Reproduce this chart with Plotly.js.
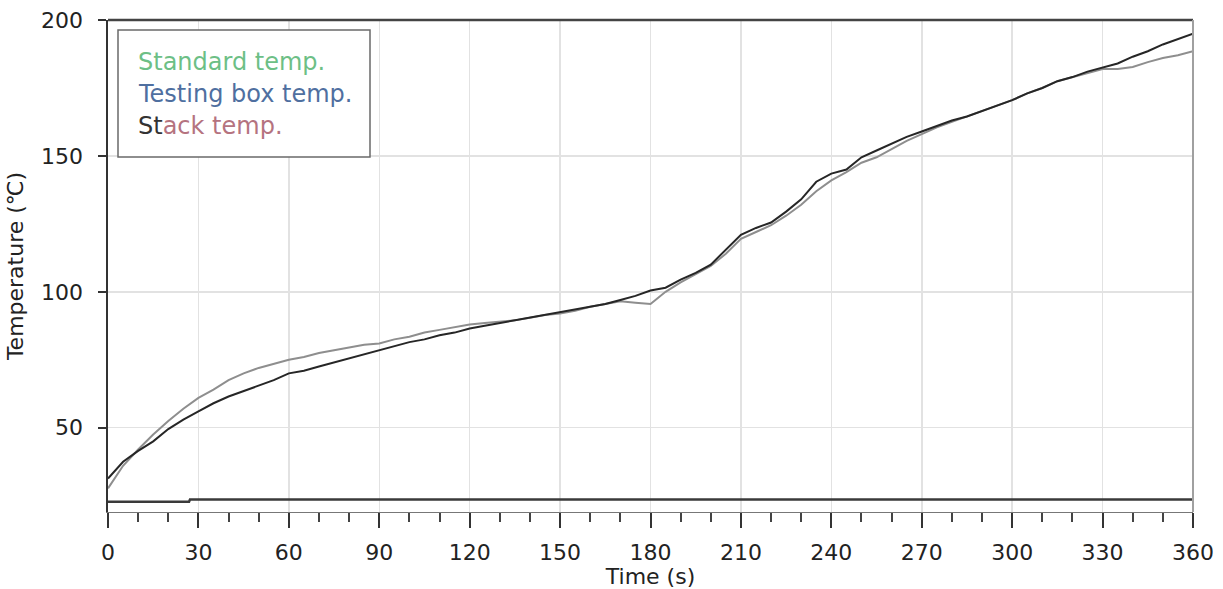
<!DOCTYPE html>
<html>
<head>
<meta charset="utf-8">
<script src="https://cdn.plot.ly/plotly-3.0.1.min.js"></script>
<style>html,body{margin:0;padding:0;background:#fff;}#chart{width:1223px;height:589px;}</style>
</head>
<body>
<div id="chart"></div>
<script>
// Time axis (s)
var timeS = [0,5,10,15,20,25,30,35,40,45,50,55,60,65,70,75,80,85,90,95,100,105,110,115,120,125,130,135,140,145,150,155,160,165,170,175,180,185,190,195,200,205,210,215,220,225,230,235,240,245,250,255,260,265,270,275,280,285,290,295,300,305,310,315,320,325,330,335,340,345,350,355,360];
// Curve rising steeply at start, dips near 180 s (light grey)
var standardTemp = [27.7,36,42,47.5,52.5,57,61,64,67.5,70,72,73.5,75,76,77.5,78.5,79.5,80.5,81,82.5,83.5,85,86,87,88,88.5,89,89.5,90.5,91.5,92,93,94.5,95.5,96.5,96,95.5,100,103.5,106.5,109.5,114,119.5,122,124.5,128,132,137,141,144,147.5,149.5,152.5,155.5,158,160.5,162.5,164.5,166.5,168.5,170.5,173,175,177.5,179,180.5,182,182,182.7,184.5,186,187,188.5];
// Curve ending highest (dark)
var stackTemp = [31.3,37.5,41.5,45,49.5,53,56,59,61.5,63.5,65.5,67.5,70,71,72.5,74,75.5,77,78.5,80,81.5,82.5,84,85,86.5,87.5,88.5,89.5,90.5,91.5,92.5,93.5,94.5,95.5,97,98.5,100.5,101.5,104.5,107,110,115.5,121,123.5,125.5,129.5,134,140.5,143.5,145,149.5,152,154.5,157,159,161,163,164.5,166.5,168.5,170.5,173,175,177.5,179,181,182.5,184,186.5,188.5,191,193,195];
// Testing box temperature (nearly constant)
var boxTime = [0,26.9,27.2,360];
var boxTemp = [22.8,22.8,23.6,23.6];
// Labels
var seriesNames = ["Standard temp.","Testing box temp.","Stack temp."];
var xTicks = [0,30,60,90,120,150,180,210,240,270,300,330,360];
var yTicks = [50,100,150,200];

var FONT = "DejaVu Sans, Verdana, sans-serif";
var traces = [
  {x: timeS, y: standardTemp, type:"scatter", mode:"lines", name: seriesNames[0], line:{color:"#8e8e8e", width:2}},
  {x: boxTime, y: boxTemp, type:"scatter", mode:"lines", name: seriesNames[1], line:{color:"#3a3a3a", width:2.5}},
  {x: timeS, y: stackTemp, type:"scatter", mode:"lines", name: seriesNames[2], line:{color:"#262626", width:2}}
];

function px2paperX(p){ return (p-108)/1085; }
function px2paperY(p){ return (512-p)/492; }

var layout = {
  width:1223, height:589,
  margin:{l:108, r:30, t:20, b:77, pad:0},
  paper_bgcolor:"#ffffff", plot_bgcolor:"#ffffff",
  showlegend:false,
  font:{family:FONT, color:"#222", size:22},
  xaxis:{
    range:[0,360], tickvals:xTicks, ticktext:xTicks.map(String),
    ticks:"outside", ticklen:15, tickwidth:2, tickcolor:"#333",
    minor:{dtick:10, tick0:0, ticks:"outside", ticklen:9, tickwidth:2, tickcolor:"#444", showgrid:false},
    showgrid:true, gridcolor:"#e2e2e2", gridwidth:1.5,
    showline:true, linecolor:"#777", linewidth:1,
    zeroline:false, ticklabelstandoff:6,
    tickfont:{family:FONT, size:22, color:"#222"},
    title:{text:"Time (s)", font:{family:FONT, size:22, color:"#222"}, standoff:4}
  },
  yaxis:{
    range:[19,200], tickvals:yTicks, ticktext:yTicks.map(String),
    ticks:"outside", ticklen:8, tickwidth:2, tickcolor:"#333",
    showgrid:true, gridcolor:"#e2e2e2", gridwidth:1.5,
    showline:true, linecolor:"#333", linewidth:2.5,
    zeroline:false, ticklabelstandoff:10,
    tickfont:{family:FONT, size:22, color:"#222"},
    title:{text:"Temperature (℃)", font:{family:FONT, size:22, color:"#222"}, standoff:12}
  },
  shapes:[
    {type:"line", xref:"paper", yref:"paper", x0:0, x1:1, y0:1, y1:1, line:{color:"#444", width:2.5}},
    {type:"line", xref:"paper", yref:"paper", x0:1, x1:1, y0:0, y1:1, line:{color:"#a0a0a0", width:2}},
    {type:"rect", xref:"paper", yref:"paper", x0:px2paperX(118), x1:px2paperX(370), y0:px2paperY(157), y1:px2paperY(30),
     line:{color:"#6a6a6a", width:1.5}, fillcolor:"#ffffff", layer:"above"}
  ],
  annotations:[
    {xref:"paper", yref:"paper", x:px2paperX(136), y:px2paperY(62), xanchor:"left", yanchor:"middle", showarrow:false,
     text:seriesNames[0], font:{family:FONT, size:24, color:"#6dbf86"}},
    {xref:"paper", yref:"paper", x:px2paperX(136), y:px2paperY(94), xanchor:"left", yanchor:"middle", showarrow:false,
     text:seriesNames[1], font:{family:FONT, size:24, color:"#4f6fa0"}},
    {xref:"paper", yref:"paper", x:px2paperX(136), y:px2paperY(126), xanchor:"left", yanchor:"middle", showarrow:false,
     text:'<span style="color:#333333">St</span><span style="color:#b5737f">ack temp.</span>', font:{family:FONT, size:24, color:"#b5737f"}}
  ]
};

Plotly.newPlot("chart", traces, layout, {displayModeBar:false, staticPlot:true});
</script>
</body>
</html>
